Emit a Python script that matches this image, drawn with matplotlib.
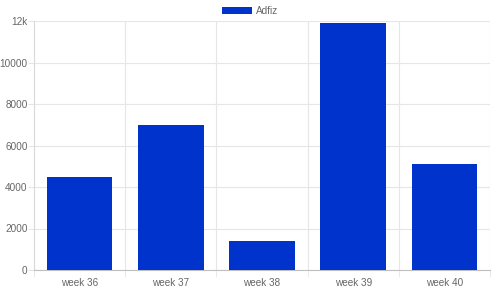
"""Weekly bar chart for Adfiz."""

import numpy as np
import matplotlib
matplotlib.use('Agg')
import matplotlib.pyplot as plt
from matplotlib.patches import Patch

# Chart data
weeks = ['week 36', 'week 37', 'week 38', 'week 39', 'week 40']
adfiz = [4500, 6970, 1400, 11920, 5090]
y_ticks = [0, 2000, 4000, 6000, 8000, 10000, 12000]
y_tick_labels = ['0', '2000', '4000', '6000', '8000', '10000', '12k']

BAR_COLOR = '#0033cc'
TEXT_COLOR = '#666666'
GRID_COLOR = '#e6e6e6'
FONT_SIZE = 7.2

plt.rcParams['font.family'] = ['Liberation Sans', 'DejaVu Sans']

fig = plt.figure(figsize=(5, 3), dpi=100)
ax = fig.add_axes([0.068, 0.1, 0.912, 0.83])

x = np.arange(len(weeks))
ax.bar(x, adfiz, width=0.72, color=BAR_COLOR, zorder=3)

ax.set_xlim(-0.5, len(weeks) - 0.5)
ax.set_ylim(0, 12000)

# Category labels at centers, grid lines at band edges
ax.set_xticks(x)
ax.set_xticklabels(weeks)
ax.set_xticks(np.arange(len(weeks) + 1) - 0.5, minor=True)
ax.tick_params(axis='x', which='major', length=0, pad=6,
               labelsize=FONT_SIZE, labelcolor=TEXT_COLOR)
ax.tick_params(axis='x', which='minor', length=5, color=GRID_COLOR)
ax.grid(axis='x', which='minor', color=GRID_COLOR, linewidth=0.8, zorder=0)

ax.set_yticks(y_ticks)
ax.set_yticklabels(y_tick_labels)
ax.tick_params(axis='y', length=4, color=GRID_COLOR, pad=0.6,
               labelsize=FONT_SIZE, labelcolor=TEXT_COLOR)
ax.grid(axis='y', color=GRID_COLOR, linewidth=0.8, zorder=0)

for side in ['top', 'right']:
    ax.spines[side].set_visible(False)
ax.spines['left'].set_color('#d9d9d9')
ax.spines['bottom'].set_color('#bfbfbf')
ax.spines['left'].set_linewidth(0.8)
ax.spines['bottom'].set_linewidth(0.8)

fig.legend(handles=[Patch(facecolor=BAR_COLOR, label='Adfiz')],
           loc='upper center', bbox_to_anchor=(0.5, 1.01), frameon=False,
           handlelength=3.0, handleheight=0.6, handletextpad=0.4,
           fontsize=FONT_SIZE, labelcolor=TEXT_COLOR)

fig.savefig('out.png', dpi=100)
